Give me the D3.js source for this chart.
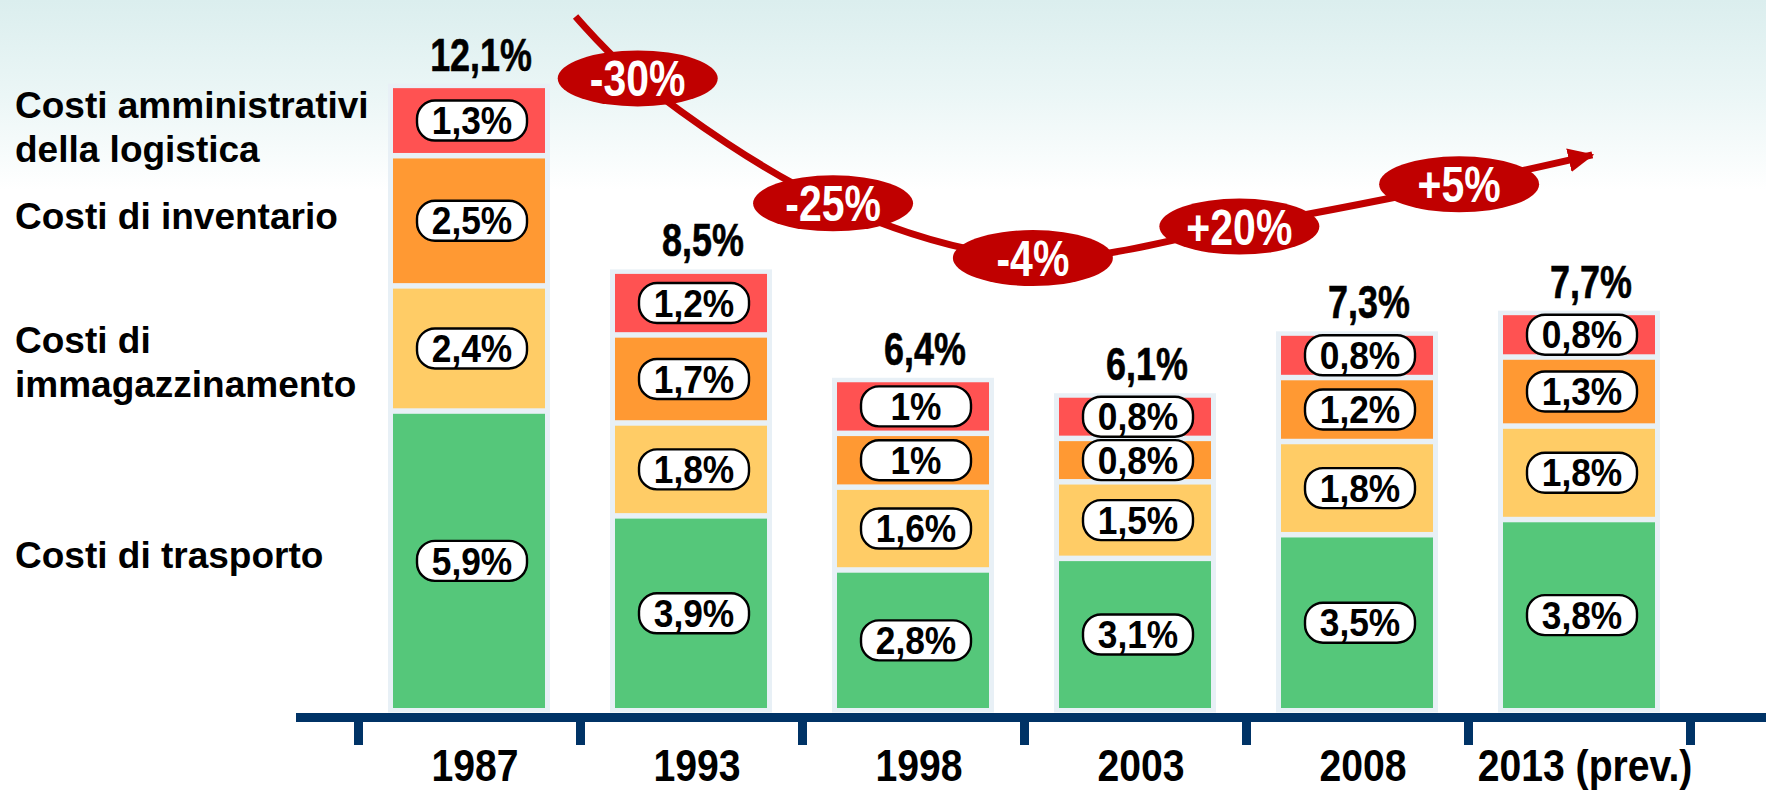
<!DOCTYPE html>
<html>
<head>
<meta charset="utf-8">
<script src="https://cdn.jsdelivr.net/npm/d3@7"></script>
<style>
body { margin: 0; background: #fff; }
svg { display: block; }
</style>
</head>
<body>
<svg id="chart"></svg>
<script>
// data
var years = ["1987", "1993", "1998", "2003", "2008", "2013 (prev.)"];
var trasporto = [5.9, 3.9, 2.8, 3.1, 3.5, 3.8];
var immagazzinamento = [2.4, 1.8, 1.6, 1.5, 1.8, 1.8];
var inventario = [2.5, 1.7, 1, 0.8, 1.2, 1.3];
var amministrativi = [1.3, 1.2, 1, 0.8, 0.8, 0.8];
var totals = [12.1, 8.5, 6.4, 6.1, 7.3, 7.7];
var changeLabels = ["-30%", "-25%", "-4%", "+20%", "+5%"];
// trend arrow: position along the year axis (in bands) and height (in % units)
var trendPos = [0.98, 1.26, 2.14, 3.04, 3.97, 4.96, 5.56];
var trendLevel = [13.4, 12.2, 9.78, 8.72, 9.33, 10.15, 10.72];
var legendLabels = [
  ["Costi di trasporto"],
  ["Costi di", "immagazzinamento"],
  ["Costi di inventario"],
  ["Costi amministrativi", "della logistica"]
];

var W = 1766, H = 793;
var sans = "'Liberation Sans', Arial, Helvetica, sans-serif";

var keys = ["trasporto", "immagazzinamento", "inventario", "amministrativi"];
var colors = ["#55c77a", "#ffcc66", "#ff9933", "#ff5252"];
var rows = years.map(function(y, i) {
  return { year: y, total: totals[i], trasporto: trasporto[i], immagazzinamento: immagazzinamento[i],
           inventario: inventario[i], amministrativi: amministrativi[i] };
});
var series = d3.stack().keys(keys)(rows);

var svg = d3.select("#chart").attr("width", W).attr("height", H);

var defs = svg.append("defs");
var grad = defs.append("linearGradient").attr("id", "bg")
    .attr("x1", 0).attr("y1", 0).attr("x2", 0).attr("y2", 1);
grad.append("stop").attr("offset", "0%").attr("stop-color", "#dbeeee");
grad.append("stop").attr("offset", "12%").attr("stop-color", "#ebf6f6");
grad.append("stop").attr("offset", "24%").attr("stop-color", "#ffffff");
defs.append("marker").attr("id", "arrow")
    .attr("markerUnits", "userSpaceOnUse")
    .attr("viewBox", "0 -13 26 26")
    .attr("markerWidth", 26).attr("markerHeight", 26)
    .attr("refX", 24).attr("refY", 0)
    .attr("orient", "auto")
  .append("path").attr("d", "M0,-12L26,0L0,12Z").attr("fill", "#c00000");

svg.append("rect").attr("width", W).attr("height", H).attr("fill", "url(#bg)");

var x = d3.scaleBand().domain(years).range([358, 1690]);
var tx = d3.scaleLinear().domain([0, 6]).range([358, 1690]);
// bar height follows the total; segments share it with small gaps
var y = d3.scaleLinear().domain([0, 14]).range([708, 708 - 14 * 51.6]);
var gap = 5.5, border = 4.5, outerW = 162, innerW = 152;

function fmt(v) { return String(v).replace(".", ",") + "%"; }
function cx(d) { return x(d) + x.bandwidth() / 2; }
function barTop(i) { return y(totals[i]); }
// vertical position inside bar i for a cumulative value v of segment k
function segY(i, v, k) {
  var sum = series[3][i][1];
  var inner = d3.scaleLinear().domain([0, sum])
      .range([y(0), barTop(i) + border + 3 * gap]);
  return inner(v) - k * gap;
}
function squeeze(sel, px, py, sx) {
  sel.attr("transform", function(d, i) {
    return "translate(" + px(d, i) + "," + py(d, i) + ") scale(" + sx + ",1)";
  });
}

// bars: light frame then coloured segments
svg.append("g").selectAll("rect")
    .data(rows)
  .enter().append("rect")
    .attr("x", function(d) { return cx(d.year) - outerW / 2; })
    .attr("width", outerW)
    .attr("y", function(d, i) { return barTop(i); })
    .attr("height", function(d, i) { return y(0) + border - barTop(i); })
    .attr("fill", "#e8f0f6");

var layer = svg.append("g").selectAll("g")
    .data(series)
  .enter().append("g")
    .attr("fill", function(s, k) { return colors[k]; });

function cells(s) { return s.map(function(d, i) { return { d: d, k: s.index, i: i }; }); }

layer.selectAll("rect")
    .data(cells)
  .enter().append("rect")
    .attr("x", function(o) { return cx(o.d.data.year) - innerW / 2; })
    .attr("width", innerW)
    .attr("y", function(o) { return segY(o.i, o.d[1], o.k); })
    .attr("height", function(o) { return segY(o.i, o.d[0], o.k) - segY(o.i, o.d[1], o.k); });

// value pills
var pills = layer.selectAll("g.pill")
    .data(cells)
  .enter().append("g")
    .attr("class", "pill")
    .attr("transform", function(o) {
      return "translate(" + (cx(o.d.data.year) + 3) + "," +
        (segY(o.i, o.d[0], o.k) + segY(o.i, o.d[1], o.k)) / 2 + ")";
    });
pills.append("rect")
    .attr("x", -55).attr("y", -20).attr("width", 110).attr("height", 40)
    .attr("rx", 18).attr("ry", 18)
    .attr("fill", "#fff").attr("stroke", "#000").attr("stroke-width", 2.4);
pills.append("text")
    .attr("text-anchor", "middle").attr("dy", "0.36em")
    .attr("transform", "scale(0.93,1)")
    .style("font-family", sans).style("font-weight", "bold").style("font-size", "38px")
    .attr("fill", "#000")
    .text(function(o) { return fmt(+(o.d[1] - o.d[0]).toFixed(1)); });

// totals
svg.append("g").selectAll("text")
    .data(totals)
  .enter().append("text")
    .attr("text-anchor", "middle")
    .style("font-family", sans).style("font-weight", "bold").style("font-size", "46px")
    .attr("stroke", "#000").attr("stroke-width", 0.6)
    .text(fmt)
    .call(squeeze,
      function(d, i) { return cx(years[i]) + 12; },
      function(d, i) { return barTop(i) - 13; }, 0.78);

// axis
svg.append("rect").attr("x", 296).attr("y", 713).attr("width", W - 296).attr("height", 9).attr("fill", "#003366");
var axis = svg.append("g")
    .attr("transform", "translate(0,713)")
    .call(d3.axisBottom(tx).tickValues(d3.range(7)).tickSize(32).tickSizeOuter(0).tickFormat(""));
axis.select(".domain").remove();
axis.selectAll(".tick line").attr("stroke", "#003366").attr("stroke-width", 9);

svg.append("g").selectAll("text")
    .data(years)
  .enter().append("text")
    .attr("text-anchor", "middle")
    .style("font-family", sans).style("font-weight", "bold").style("font-size", "45px")
    .text(function(d) { return d; })
    .call(squeeze, function(d) { return cx(d) + 6; }, function() { return 781; }, 0.87);

// legend on the left
var legendBaseline = [568, 353, 229, 118];
svg.append("g").selectAll("text")
    .data(legendLabels)
  .enter().append("text")
    .attr("x", 15)
    .attr("y", function(d, i) { return legendBaseline[i]; })
    .style("font-family", sans).style("font-weight", "bold").style("font-size", "37px")
    .selectAll("tspan")
    .data(function(d) { return d; })
  .enter().append("tspan")
    .attr("x", 15)
    .attr("dy", function(d, j) { return j ? 44 : 0; })
    .text(function(d) { return d; });

// trend arrow with change bubbles
var pts = trendPos.map(function(p, i) { return [tx(p), y(trendLevel[i])]; });
svg.append("path")
    .attr("d", d3.line().curve(d3.curveCatmullRom.alpha(0.5))(pts))
    .attr("fill", "none").attr("stroke", "#c00000").attr("stroke-width", 7)
    .attr("marker-end", "url(#arrow)");

var bub = svg.append("g").selectAll("g")
    .data(changeLabels)
  .enter().append("g")
    .attr("transform", function(d, i) { return "translate(" + pts[i + 1][0] + "," + pts[i + 1][1] + ")"; });
bub.append("ellipse").attr("rx", 80).attr("ry", 28).attr("fill", "#c00000");
bub.append("text")
    .attr("text-anchor", "middle").attr("dy", "0.36em")
    .attr("transform", "scale(0.82,1)")
    .attr("fill", "#fff")
    .style("font-family", sans).style("font-weight", "bold").style("font-size", "50px")
    .text(function(d) { return d; });
</script>
</body>
</html>
